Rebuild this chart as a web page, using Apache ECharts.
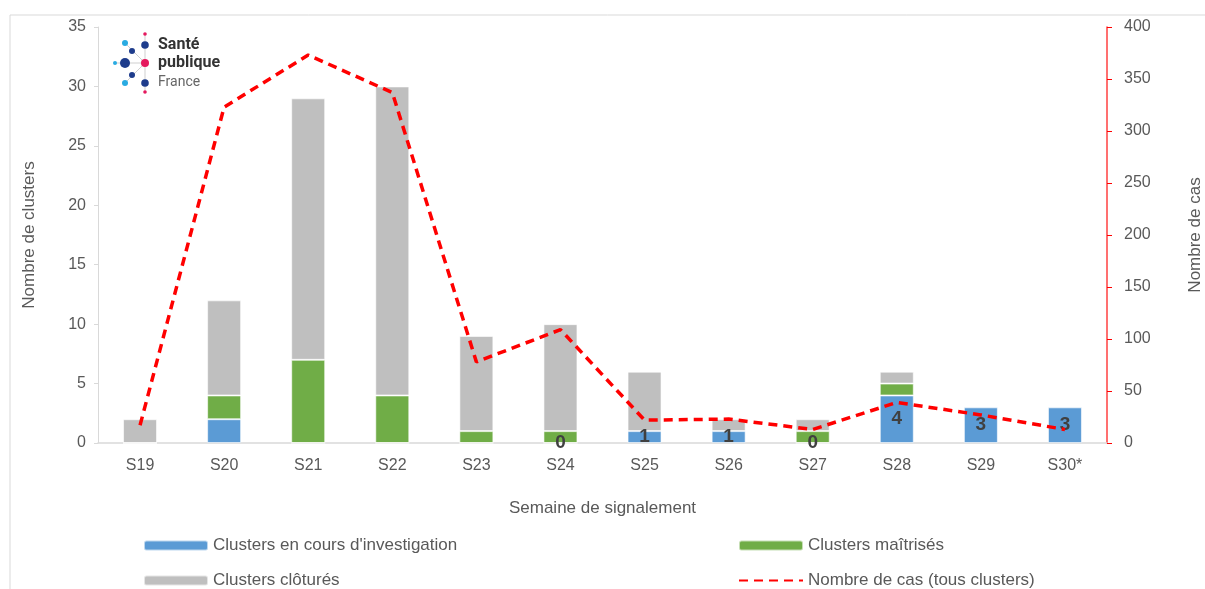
<!DOCTYPE html>
<html>
<head>
<meta charset="utf-8">
<script src="https://cdn.jsdelivr.net/npm/echarts@6/dist/echarts.min.js"></script>
<style>
  html, body { margin: 0; padding: 0; background: #fff; }
  #chart { width: 1205px; height: 589px; }
</style>
</head>
<body>
<div id="chart"></div>
<script>
// semaines
const weeks = ['S19', 'S20', 'S21', 'S22', 'S23', 'S24', 'S25', 'S26', 'S27', 'S28', 'S29', 'S30*'];
// clusters par statut
const enCours = [0, 2, 0, 0, 0, 0, 1, 1, 0, 4, 3, 3];
const maitrises = [0, 2, 7, 4, 1, 1, 0, 0, 1, 1, 0, 0];
const clotures = [2, 8, 22, 26, 8, 9, 5, 1, 1, 1, 0, 0];
// nombre de cas (tous clusters)
const nbCas = [17, 323, 373, 337, 78, 109, 22, 23, 13, 39, 27, 13];
// étiquettes affichées à partir de S24
const firstLabelIdx = 5;

const grey = '#595959';
const font = 'Liberation Sans, Arial, sans-serif';

const chart = echarts.init(document.getElementById('chart'));

const legendCommon = {
  orient: 'vertical', top: 537, padding: 0, itemGap: 18,
  itemWidth: 64, itemHeight: 10,
  textStyle: { color: grey, fontSize: 17, fontFamily: font }
};

const option = {
  animation: false,
  textStyle: { fontFamily: font },
  grid: { left: 98, right: 98, top: 27, bottom: 146, outerBoundsMode: 'none' },
  legend: [
    Object.assign({}, legendCommon, {
      left: 143,
      data: ['Clusters en cours d\'investigation', 'Clusters clôturés']
    }),
    Object.assign({}, legendCommon, {
      left: 738,
      data: ['Clusters maîtrisés', { name: 'Nombre de cas (tous clusters)', itemStyle: { opacity: 0 } }]
    })
  ],
  xAxis: {
    type: 'category',
    data: weeks,
    name: 'Semaine de signalement',
    nameLocation: 'middle',
    nameGap: 57,
    nameTextStyle: { color: grey, fontSize: 17 },
    axisLine: { lineStyle: { color: '#d9d9d9', width: 1.5 } },
    axisTick: { show: false },
    axisLabel: { color: grey, fontSize: 16, margin: 15 }
  },
  yAxis: [
    {
      type: 'value', min: 0, max: 35, interval: 5,
      name: 'Nombre de clusters',
      nameLocation: 'middle', nameRotate: 90, nameGap: 60,
      nameTextStyle: { color: grey, fontSize: 17 },
      axisLine: { show: true, lineStyle: { color: '#d9d9d9' } },
      axisTick: { show: true, length: 4, lineStyle: { color: '#d9d9d9' } },
      axisLabel: { color: grey, fontSize: 16, margin: 12 },
      splitLine: { show: false }
    },
    {
      type: 'value', min: 0, max: 400, interval: 50,
      name: 'Nombre de cas',
      nameLocation: 'middle', nameRotate: 90, nameGap: 80,
      nameTextStyle: { color: grey, fontSize: 17 },
      axisLine: { show: true, lineStyle: { color: '#ff4040', width: 1.5 } },
      axisTick: { show: true, length: 5, lineStyle: { color: '#ff0000' } },
      axisLabel: { color: grey, fontSize: 16, margin: 17 },
      splitLine: { show: false }
    }
  ],
  series: [
    {
      name: 'Clusters en cours d\'investigation',
      type: 'bar', stack: 'c', barWidth: 34,
      data: enCours,
      itemStyle: { color: '#5b9bd5', borderColor: 'rgba(255,255,255,0.6)', borderWidth: 1 },
      label: {
        show: true, position: 'inside', color: '#404040',
        fontSize: 19, fontWeight: 'bold', fontFamily: font,
        formatter: p => (p.dataIndex >= firstLabelIdx ? String(p.value) : '')
      },
      z: 3
    },
    {
      name: 'Clusters maîtrisés',
      type: 'bar', stack: 'c', barWidth: 34,
      data: maitrises,
      itemStyle: { color: '#70ad47', borderColor: 'rgba(255,255,255,0.6)', borderWidth: 1 }
    },
    {
      name: 'Clusters clôturés',
      type: 'bar', stack: 'c', barWidth: 34,
      data: clotures,
      itemStyle: { color: '#bfbfbf', borderColor: 'rgba(255,255,255,0.6)', borderWidth: 1 }
    },
    {
      name: 'Nombre de cas (tous clusters)',
      type: 'line', yAxisIndex: 1,
      data: nbCas,
      symbol: 'none',
      lineStyle: { color: '#ff0000', width: 3.5, type: [9, 6] },
      itemStyle: { color: '#ff0000' },
      z: 5
    }
  ],
  graphic: [
    // cadre
    { type: 'line', shape: { x1: 10, y1: 15, x2: 1205, y2: 15 }, style: { stroke: '#d9d9d9', lineWidth: 1 } },
    { type: 'line', shape: { x1: 10, y1: 15, x2: 10, y2: 589 }, style: { stroke: '#d9d9d9', lineWidth: 1 } },
    // logo Santé publique France
    { type: 'line', shape: { x1: 116, y1: 63, x2: 145, y2: 63 }, style: { stroke: '#cfcfcf', lineWidth: 1 } },
    { type: 'line', shape: { x1: 145, y1: 34, x2: 145, y2: 92 }, style: { stroke: '#cfcfcf', lineWidth: 1 } },
    { type: 'line', shape: { x1: 125, y1: 43, x2: 145, y2: 63 }, style: { stroke: '#cfcfcf', lineWidth: 1 } },
    { type: 'line', shape: { x1: 125, y1: 83, x2: 145, y2: 63 }, style: { stroke: '#cfcfcf', lineWidth: 1 } },
    { type: 'circle', shape: { cx: 145, cy: 34, r: 1.8 }, style: { fill: '#e5195e' } },
    { type: 'circle', shape: { cx: 145, cy: 45, r: 3.8 }, style: { fill: '#1e3c8c' } },
    { type: 'circle', shape: { cx: 125, cy: 43, r: 3 }, style: { fill: '#29abe2' } },
    { type: 'circle', shape: { cx: 132, cy: 51, r: 3 }, style: { fill: '#1e3c8c' } },
    { type: 'circle', shape: { cx: 115, cy: 63, r: 2 }, style: { fill: '#29abe2' } },
    { type: 'circle', shape: { cx: 125, cy: 63, r: 5 }, style: { fill: '#1e3c8c' } },
    { type: 'circle', shape: { cx: 145, cy: 63, r: 4 }, style: { fill: '#e5195e' } },
    { type: 'circle', shape: { cx: 132, cy: 75, r: 3 }, style: { fill: '#1e3c8c' } },
    { type: 'circle', shape: { cx: 125, cy: 83, r: 3 }, style: { fill: '#29abe2' } },
    { type: 'circle', shape: { cx: 145, cy: 83, r: 3.8 }, style: { fill: '#1e3c8c' } },
    { type: 'circle', shape: { cx: 145, cy: 92, r: 1.8 }, style: { fill: '#e5195e' } },
    { type: 'text', x: 158, y: 37, style: { text: 'Santé', fill: '#333', font: 'bold 16px Roboto, sans-serif' } },
    { type: 'text', x: 158, y: 55, style: { text: 'publique', fill: '#333', font: 'bold 16px Roboto, sans-serif' } },
    { type: 'text', x: 158, y: 75, style: { text: 'France', fill: '#666', font: '14px Roboto, sans-serif' } }
  ]
};

chart.setOption(option);
</script>
</body>
</html>
